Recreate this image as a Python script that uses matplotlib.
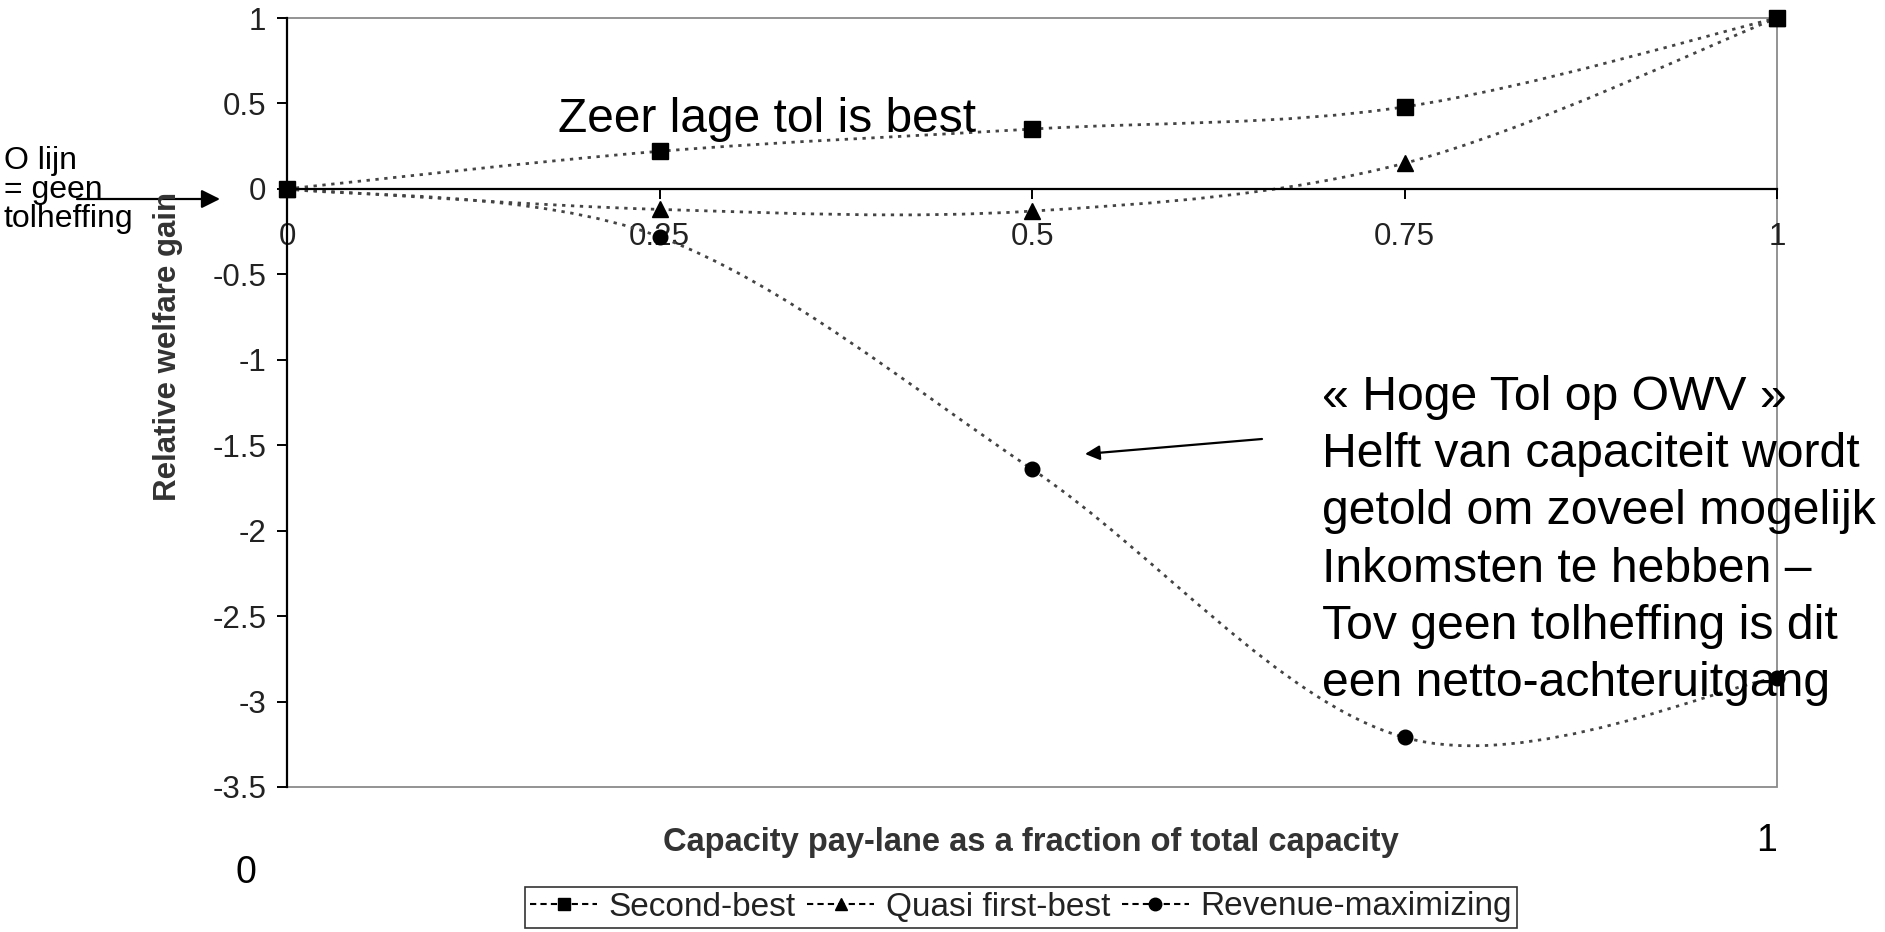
import matplotlib
matplotlib.use('Agg')
import matplotlib.pyplot as plt
from matplotlib.path import Path
from matplotlib.patches import PathPatch, Rectangle
from matplotlib.lines import Line2D
import numpy as np

# ---------------- data ----------------
x_vals = [0, 0.25, 0.5, 0.75, 1]
second_best = [0, 0.22, 0.35, 0.48, 1.0]
quasi_first_best = [0, -0.12, -0.13, 0.15, 1.0]
revenue_max = [0, -0.28, -1.64, -3.21, -2.86]
series_names = ['Second-best', 'Quasi first-best', 'Revenue-maximizing']
series_markers = ['s', '^', 'o']
x_ticks = [0, 0.25, 0.5, 0.75, 1]
x_tick_labels = ['0', '0.25', '0.5', '0.75', '1']
y_ticks = [1, 0.5, 0, -0.5, -1, -1.5, -2, -2.5, -3, -3.5]
y_tick_labels = ['1', '0.5', '0', '-0.5', '-1', '-1.5', '-2', '-2.5', '-3', '-3.5']
x_label = 'Capacity pay-lane as a fraction of total capacity'
y_label = 'Relative welfare gain'
note_top = 'Zeer lage tol is best'
note_left = ['O lijn', '= geen', 'tolheffing']
note_right = ['\u00ab Hoge Tol op OWV \u00bb',
              'Helft van capaciteit wordt',
              'getold om zoveel mogelijk',
              'Inkomsten te hebben \u2013',
              'Tov geen tolheffing is dit',
              'een netto-achteruitgang']

FONT = ['Liberation Sans', 'DejaVu Sans']
plt.rcParams['font.family'] = FONT

W, H = 1885, 932
fig = plt.figure(figsize=(W / 100, H / 100), dpi=100)
fig.patch.set_facecolor('white')


def fp(x, y):
    """pixel (top-left origin) -> figure fraction"""
    return x / W, 1 - y / H


ax = fig.add_axes([287 / W, 1 - 787 / H, (1777 - 287) / W, (787 - 18) / H])
ax.set_xlim(0, 1)
ax.set_ylim(-3.5, 1)


def smooth_path(xs, ys, k=1 / 6):
    P = np.column_stack([xs, ys]).astype(float)
    n = len(P)
    verts = [P[0]]
    codes = [Path.MOVETO]
    for i in range(n - 1):
        p0 = P[i - 1] if i > 0 else P[i]
        p3 = P[i + 2] if i + 2 < n else P[i + 1]
        c1 = P[i] + (P[i + 1] - p0) * k
        c2 = P[i + 1] - (p3 - P[i]) * k
        verts += [c1, c2, P[i + 1]]
        codes += [Path.CURVE4] * 3
    return Path(verts, codes)


line_color = '#444444'
for ys, mk in zip([second_best, quasi_first_best, revenue_max], series_markers):
    patch = PathPatch(smooth_path(x_vals, ys), fill=False, edgecolor=line_color,
                      lw=2.0, linestyle=(0, (1.2, 2.0)), zorder=3)
    ax.add_patch(patch)
    ms = {'s': 12, '^': 11.5, 'o': 10.5}[mk]
    ax.plot(x_vals, ys, linestyle='none', marker=mk, color='black', ms=ms,
            clip_on=False, zorder=5)

# spines / frame
for s in ['top', 'right']:
    ax.spines[s].set_visible(False)
ax.spines['left'].set_color('black')
ax.spines['left'].set_linewidth(1.6)
ax.spines['bottom'].set_position(('data', 0))
ax.spines['bottom'].set_color('black')
ax.spines['bottom'].set_linewidth(1.6)
ax.spines['bottom'].set_zorder(4)
ax.add_patch(Rectangle((0, 0), 1, 1, transform=ax.transAxes, fill=False,
                       edgecolor='#8a8a8a', lw=1.3, clip_on=False, zorder=0.5))

ax.set_xticks(x_ticks)
ax.set_xticklabels(x_tick_labels)
ax.set_yticks(y_ticks)
ax.set_yticklabels(y_tick_labels)
ax.tick_params(axis='x', direction='out', length=7, width=1.4, pad=17,
               labelsize=22.5, labelcolor='#222222')
ax.tick_params(axis='y', direction='out', length=7, width=1.4, pad=8,
               labelsize=22.5, labelcolor='#222222')

# axis labels
fig.text(*fp(168, 346), y_label, rotation=90, ha='center', va='center',
         fontsize=22.5, fontweight='bold', color='#333333')
fig.text(*fp(1031, 842), x_label, ha='center', va='center',
         fontsize=23.5, fontweight='bold', color='#333333')

# legend
handles = [Line2D([], [], color='black', lw=1.5, linestyle=(0, (3, 2)),
                  marker=m, ms=9) for m in series_markers]
leg = fig.legend(handles, series_names, loc='center',
                 bbox_to_anchor=fp(1021, 907), ncol=3, frameon=True,
                 fancybox=False, edgecolor='black', fontsize=24,
                 handlelength=2.0, handletextpad=0.35, columnspacing=0.35,
                 borderpad=0.15, borderaxespad=0)
leg.get_frame().set_linewidth(1.2)
for t in leg.get_texts():
    t.set_color('#222222')

# annotation texts
fig.text(*fp(558, 132), note_top, ha='left', va='baseline', fontsize=34.5,
         color='black', zorder=10)
for i, line in enumerate(note_right):
    fig.text(*fp(1322, 410 + i * 57.2), line, ha='left', va='baseline',
             fontsize=34.7, color='black', zorder=10)
for i, b in enumerate([169, 198, 227]):
    fig.text(*fp(4, b), note_left[i], ha='left', va='baseline', fontsize=23,
             color='black')

fig.text(*fp(246, 873), '0', ha='center', va='center', fontsize=27)
fig.text(*fp(1767, 841), '1', ha='center', va='center', fontsize=27)

# arrows
ax.annotate('', xy=(220, H - 199), xytext=(77, H - 199), xycoords='figure pixels',
            textcoords='figure pixels',
            arrowprops=dict(arrowstyle='-|>', color='black', lw=1.6,
                            mutation_scale=28, shrinkA=0, shrinkB=0))
ax.annotate('', xy=(1085, H - 454), xytext=(1262, H - 439), xycoords='figure pixels',
            textcoords='figure pixels',
            arrowprops=dict(arrowstyle='-|>', color='black', lw=1.6,
                            mutation_scale=22, shrinkA=0, shrinkB=0))

fig.savefig('out.png', dpi=100, facecolor='white')
